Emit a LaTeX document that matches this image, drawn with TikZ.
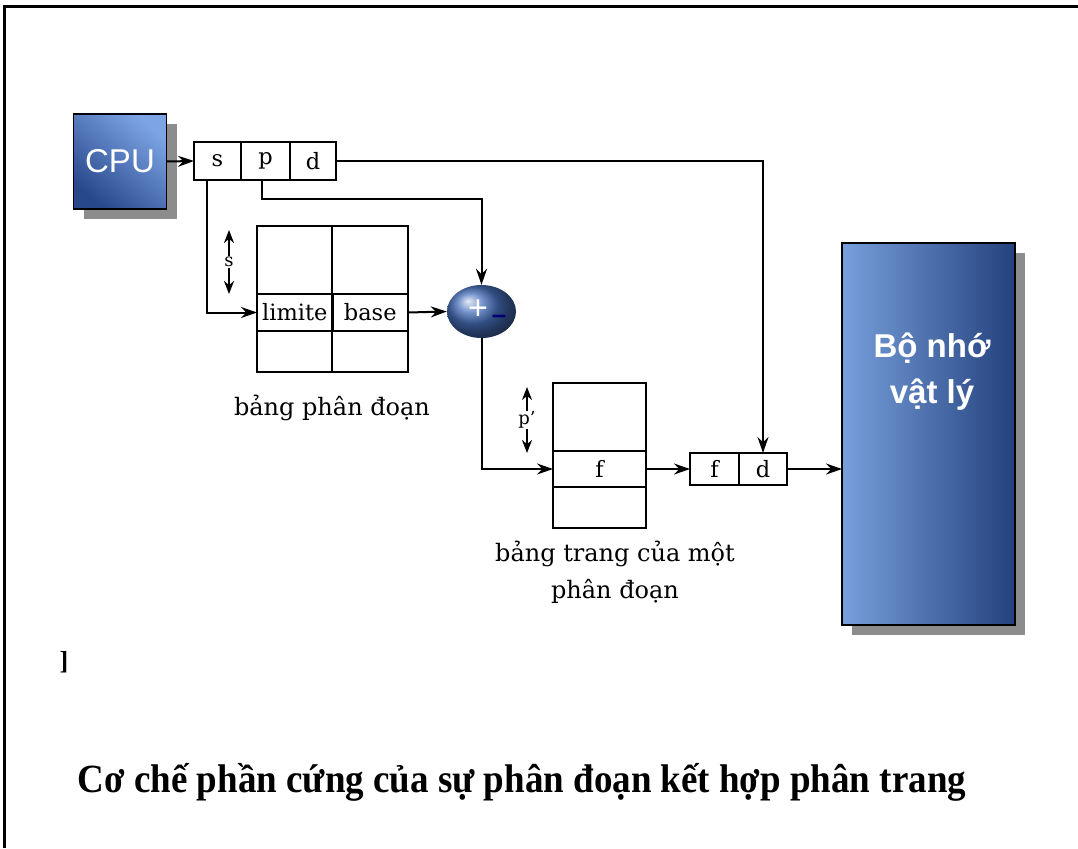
\documentclass[tikz,border=0pt]{standalone}
\usepackage{fontspec}
\setmainfont{DejaVu Serif}
\newfontfamily\boxfont{Liberation Sans}
\newfontfamily\titlefont{Liberation Serif}
\usetikzlibrary{positioning,shapes.geometric,shadows,arrows.meta}

\definecolor{cpudark}{RGB}{40,72,140}
\definecolor{cpulight}{RGB}{125,165,230}
\definecolor{memdark}{RGB}{35,65,125}
\definecolor{memmid}{RGB}{65,105,175}
\definecolor{memlight}{RGB}{120,160,220}
\definecolor{addblue}{RGB}{70,110,185}

\tikzset{
  cell/.style={draw,line width=2pt,inner sep=0pt,outer sep=0pt,font=\fontsize{22.5}{24}\selectfont},
  tabbox/.style={draw,line width=2pt,inner sep=0pt,outer sep=0pt},
  conn/.style={-{Stealth[length=16pt,width=11pt]},line width=2pt},
  dbl/.style={{Stealth[length=13pt,width=10pt]}-{Stealth[length=13pt,width=10pt]},line width=2pt},
  hwbox/.style={draw=black,line width=1.6pt,text=white,outer sep=0pt,
    drop shadow={shadow xshift=10pt,shadow yshift=-10pt,fill=black!45,opacity=1}},
  caption/.style={font=\fontsize{24}{37}\selectfont,align=center},
}

\begin{document}
\begin{tikzpicture}[x=1pt,y=-1pt]
\useasboundingbox (0,0) rectangle (1078,848);
\fill[white] (0,0) rectangle (1078,848);
\draw[line width=3pt] (4,848) -- (4,7) -- (1078,7);

% CPU and address register s|p|d
\node[hwbox,minimum width=93pt,minimum height=95pt,top color=cpulight,bottom color=cpudark,shading angle=-40,
  font=\boxfont\fontsize{33}{35}\selectfont] (cpu) at (120,161.5) {CPU};
\node[cell,minimum width=47pt,minimum height=38pt] (s) at (217.5,161) {s};
\node[cell,minimum width=49pt,minimum height=38pt,right=0pt of s] (p) {p};
\node[cell,minimum width=46pt,minimum height=38pt,right=0pt of p] (d) {d};

% segment table
\node[tabbox,minimum width=151pt,minimum height=146pt] (segtab) at (332,299) {};
\draw[line width=2pt] (segtab.north) -- (segtab.south);
\node[cell,minimum width=75.5pt,minimum height=37pt,anchor=north west] (lim) at (257,294) {limite};
\node[cell,minimum width=75.5pt,minimum height=37pt,right=0pt of lim] (base) {base};
\node[caption] (segcap) at (332,408) {bảng phân đoạn};
\coordinate (stop) at (229,230);
\coordinate (sbot) at (229,294);
\draw[dbl] (stop) -- node[fill=white,font=\fontsize{18}{18}\selectfont,inner sep=1pt] (slbl) {s} (sbot);

% adder
\node[ellipse,minimum width=69pt,minimum height=53pt,inner sep=0pt,shading=ball,ball color=addblue] (adder) at (481.5,311.5) {};
\node[text=white,font=\boxfont\fontsize{34}{34}\selectfont,inner sep=0pt] (plus) at (478,310) {+};
\node[text=blue!45!black,font=\boxfont\bfseries\fontsize{26}{26}\selectfont,inner sep=0pt] (minus) at (499,319) {–};

% page table of a segment
\node[tabbox,minimum width=93pt,minimum height=145pt] (pagetab) at (599.5,455.5) {};
\node[cell,minimum width=93pt,minimum height=36pt] (fent) at (599.5,469) {f};
\node[caption] (pagecap) at (615,572) {bảng trang của một\\phân đoạn};
\coordinate (ptop) at (527,387);
\coordinate (pbot) at (527,453);
\draw[dbl] (ptop) -- node[fill=white,font=\fontsize{18}{18}\selectfont,inner sep=1pt] (plbl) {p'} (pbot);

% physical address f|d
\node[cell,minimum width=49pt,minimum height=32pt] (ff) at (714.5,469) {f};
\node[cell,minimum width=48pt,minimum height=32pt,right=0pt of ff] (fd) {d};

% physical memory
\node[hwbox,minimum width=173pt,minimum height=382pt,left color=memlight,middle color=memmid,right color=memdark] (mem) at (928.5,434) {};
\node[text=white,font=\boxfont\bfseries\fontsize{33}{46}\selectfont,align=center] (memtxt) at (932,372) {Bộ nhớ\\vật lý};

% connectors
\draw[conn] (cpu.east) -- (s.west);
\draw[conn] ([xshift=-11pt]s.south) |- (lim.west);
\coordinate (pturn) at (481.5,199);
\draw[conn] ([xshift=-4pt]p.south) |- (pturn) -- (adder.north);
\draw[conn] (d.east) -| (fd.north);
\draw[conn] (base.east) -- (adder.west);
\draw[conn] (adder.south) |- (fent.west);
\draw[conn] (fent.east) -- (ff.west);
\draw[conn] (fd.east) -- (fd.east -| mem.west);

\node[font=\titlefont\bfseries\fontsize{26}{26}\selectfont] (brk) at (64,662) {]};
\node[font=\titlefont\bfseries\fontsize{40}{40}\selectfont,xscale=0.925] (title) at (522,782)
  {Cơ chế phần cứng của sự phân đoạn kết hợp phân trang};
\end{tikzpicture}
\end{document}
